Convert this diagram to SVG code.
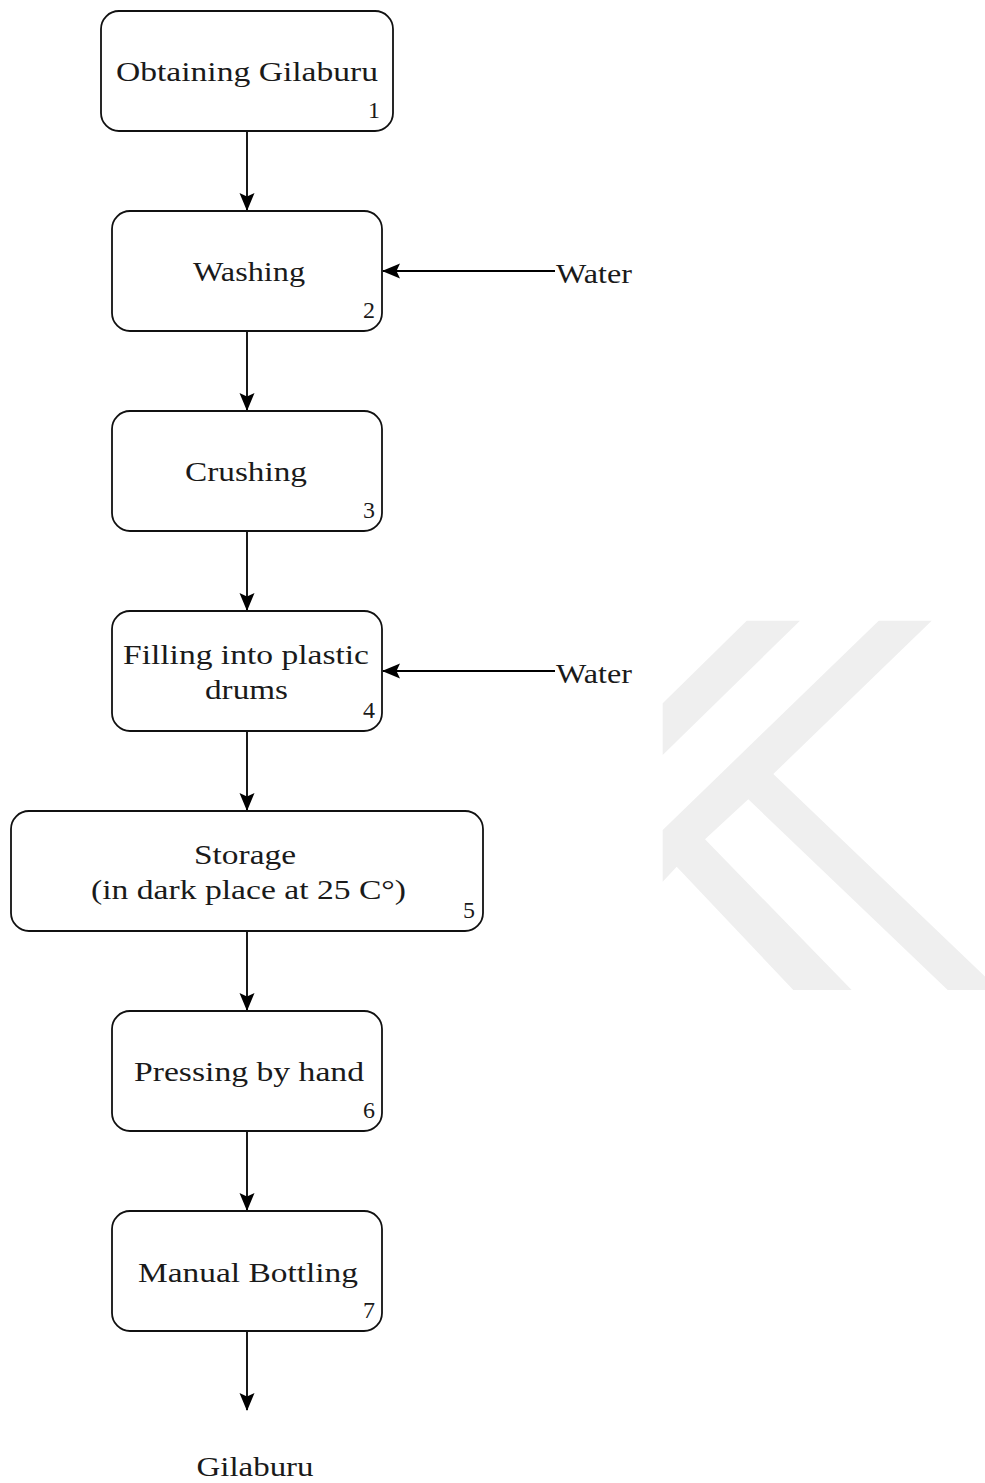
<svg xmlns="http://www.w3.org/2000/svg" width="985" height="1483" viewBox="0 0 985 1483">
  <defs>
    <style>
      .box { fill: #ffffff; stroke: #111111; stroke-width: 1.8; }
      .lbl { font-family: "Liberation Serif", "DejaVu Serif", serif; font-size: 28px; fill: #1a1a1a; text-anchor: middle; }
      .num { font-family: "Liberation Serif", "DejaVu Serif", serif; font-size: 24px; fill: #1a1a1a; text-anchor: end; }
      .side { font-family: "Liberation Serif", "DejaVu Serif", serif; font-size: 28px; fill: #1a1a1a; }
      .edge { stroke: #000000; stroke-width: 1.8; fill: none; marker-end: url(#arrow); }
      .mark { fill: #efefef; }
    </style>
    <marker id="arrow" viewBox="0 0 18 16" refX="17" refY="8" markerWidth="18" markerHeight="16" markerUnits="userSpaceOnUse" orient="auto">
      <path d="M0,0.5 L18,8 L0,15.5 L3.5,8 Z" fill="#000000"/>
    </marker>
  </defs>

  <rect width="985" height="1483" fill="#ffffff"/>

  <!-- background emblem -->
  <g id="emblem">
    <polygon class="mark" points="746.7,620.7 800,620.7 662.7,755 662.7,703.3"/>
    <polygon class="mark" points="878.7,620.7 931.7,620.7 773.3,774 999,990 947.7,990 748.3,799.3 705,839.3 851.7,990 793.3,990 676.7,866.7 662.7,881.7 662.7,830"/>
  </g>

  <!-- connectors -->
  <g id="connectors">
    <line class="edge" x1="247" y1="131" x2="247" y2="210"/>
    <line class="edge" x1="247" y1="331" x2="247" y2="410"/>
    <line class="edge" x1="247" y1="531" x2="247" y2="610"/>
    <line class="edge" x1="247" y1="731" x2="247" y2="810"/>
    <line class="edge" x1="247" y1="931" x2="247" y2="1010"/>
    <line class="edge" x1="247" y1="1131" x2="247" y2="1210"/>
    <line class="edge" x1="247" y1="1331" x2="247" y2="1410"/>
    <line class="edge" x1="555" y1="271" x2="383" y2="271"/>
    <line class="edge" x1="555" y1="671" x2="383" y2="671"/>
  </g>

  <!-- process steps -->
  <g id="step1">
    <rect class="box" x="101" y="11" width="292" height="120" rx="18"/>
    <text class="lbl" x="247" y="81" textLength="262" lengthAdjust="spacingAndGlyphs">Obtaining Gilaburu</text>
    <text class="num" x="380" y="118">1</text>
  </g>
  <g id="step2">
    <rect class="box" x="112" y="211" width="270" height="120" rx="18"/>
    <text class="lbl" x="249" y="281" textLength="112" lengthAdjust="spacingAndGlyphs">Washing</text>
    <text class="num" x="375" y="318">2</text>
  </g>
  <g id="step3">
    <rect class="box" x="112" y="411" width="270" height="120" rx="18"/>
    <text class="lbl" x="246" y="481" textLength="122" lengthAdjust="spacingAndGlyphs">Crushing</text>
    <text class="num" x="375" y="518">3</text>
  </g>
  <g id="step4">
    <rect class="box" x="112" y="611" width="270" height="120" rx="18"/>
    <text class="lbl" x="246" y="664" textLength="246" lengthAdjust="spacingAndGlyphs">Filling into plastic</text>
    <text class="lbl" x="246.5" y="699" textLength="83" lengthAdjust="spacingAndGlyphs">drums</text>
    <text class="num" x="375" y="718">4</text>
  </g>
  <g id="step5">
    <rect class="box" x="11" y="811" width="472" height="120" rx="18"/>
    <text class="lbl" x="245" y="864" textLength="102" lengthAdjust="spacingAndGlyphs">Storage</text>
    <text class="lbl" x="248.5" y="899" textLength="315" lengthAdjust="spacingAndGlyphs">(in dark place at 25 C°)</text>
    <text class="num" x="475" y="918">5</text>
  </g>
  <g id="step6">
    <rect class="box" x="112" y="1011" width="270" height="120" rx="18"/>
    <text class="lbl" x="249" y="1081" textLength="230" lengthAdjust="spacingAndGlyphs">Pressing by hand</text>
    <text class="num" x="375" y="1118">6</text>
  </g>
  <g id="step7">
    <rect class="box" x="112" y="1211" width="270" height="120" rx="18"/>
    <text class="lbl" x="248" y="1282" textLength="220" lengthAdjust="spacingAndGlyphs">Manual Bottling</text>
    <text class="num" x="375" y="1318">7</text>
  </g>

  <!-- inputs and product -->
  <g id="water1">
    <text class="side" x="556" y="283" textLength="76" lengthAdjust="spacingAndGlyphs">Water</text>
  </g>
  <g id="water2">
    <text class="side" x="556" y="683" textLength="76" lengthAdjust="spacingAndGlyphs">Water</text>
  </g>
  <g id="product">
    <text class="lbl" x="255" y="1476" textLength="117" lengthAdjust="spacingAndGlyphs">Gilaburu</text>
  </g>
</svg>
